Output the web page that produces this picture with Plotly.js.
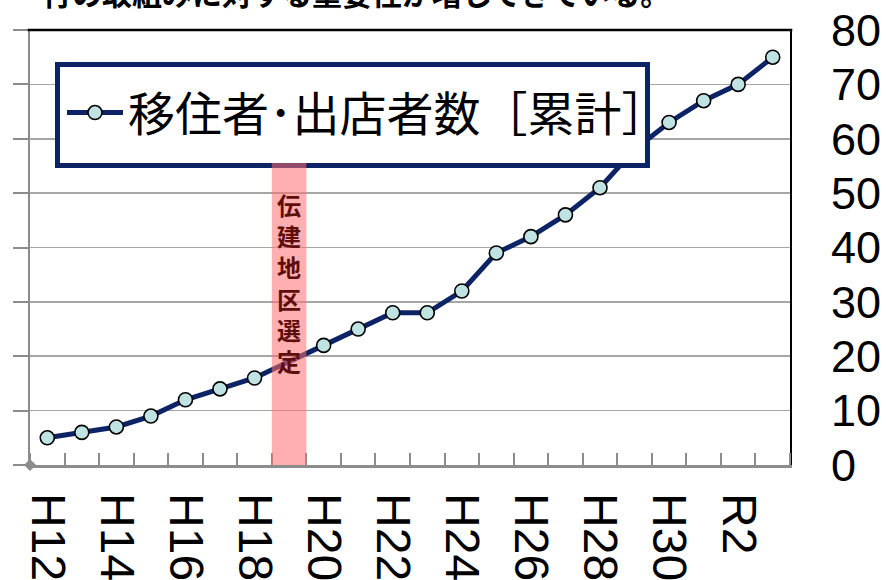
<!DOCTYPE html>
<html>
<head>
<meta charset="utf-8">
<script src="https://cdn.plot.ly/plotly-3.0.1.min.js"></script>
<style>html,body{margin:0;padding:0;background:#fff;}#chart{width:887px;height:580px;}</style>
</head>
<body>
<div id="chart"></div>
<script>
// Data
const categories = ["H12","H13","H14","H15","H16","H17","H18","H19","H20","H21","H22","H23","H24","H25","H26","H27","H28","H29","H30","R1","R2","R3"];
const cumulativeCount = [5,6,7,9,12,14,16,null,22,25,28,28,32,39,42,46,51,58,63,67,70,75];
const tickLabels = ["H12","H14","H16","H18","H20","H22","H24","H26","H28","H30","R2"];
const seriesName = "移住者･出店者数［累計］";
const bandLabel = "伝建地区選定";
const bandCategory = "H19";
const headText = "行の取組みに対する重要性が増してきている。";

const xIdx = categories.map((c, i) => i);
const tickIdx = tickLabels.map(l => categories.indexOf(l));
const bandIdx = categories.indexOf(bandCategory);

const GRAY = "#8c8c8c";
const NAVY = "#0c2466";

const traces = [{
  type: "scatter",
  mode: "lines+markers",
  x: xIdx,
  y: cumulativeCount,
  name: seriesName,
  connectgaps: true,
  line: {color: NAVY, width: 5},
  marker: {symbol: "circle", size: 14, color: "#bfe2e3", line: {color: "#000", width: 1.6}},
  xaxis: "x", yaxis: "y"
}, {
  type: "scatter",
  mode: "lines",
  x: xIdx,
  y: cumulativeCount,
  showlegend: false,
  hoverinfo: "skip",
  opacity: 0,
  xaxis: "x", yaxis: "y2"
}];

const px = v => (v - 30) / 760;
const py = v => (465 - v) / 435;

const layout = {
  width: 887, height: 580,
  margin: {l: 30, r: 97, t: 30, b: 115, pad: 0},
  paper_bgcolor: "#fff", plot_bgcolor: "#fff",
  showlegend: true,
  font: {family: "Liberation Sans, Arial, sans-serif", color: "#000"},
  xaxis: {
    range: [-0.5, categories.length - 0.5],
    automargin: false,
    showgrid: false, zeroline: false,
    showline: true, linecolor: GRAY, linewidth: 2.5,
    tickmode: "array", tickvals: tickIdx, ticktext: tickLabels,
    ticks: "", tickangle: 90,
    ticklabelstandoff: 16,
    tickfont: {size: 48, family: "Liberation Sans, Arial, sans-serif", color: "#000"},
    minor: {ticks: "inside", tick0: -0.5, dtick: 1, ticklen: 12, tickwidth: 2, tickcolor: GRAY, showgrid: false}
  },
  yaxis: {
    range: [0, 80], dtick: 10, tick0: 0,
    automargin: false,
    showgrid: true, gridcolor: "#a6a6a6", gridwidth: 1.6,
    zeroline: false,
    showline: true, linecolor: GRAY, linewidth: 2.5,
    ticks: "outside", ticklen: 15, tickwidth: 2, tickcolor: GRAY,
    showticklabels: false
  },
  yaxis2: {
    overlaying: "y", side: "right",
    range: [0, 80], dtick: 10, tick0: 0,
    automargin: false,
    showgrid: false, zeroline: false,
    showline: true, linecolor: "#000", linewidth: 2,
    ticks: "",
    ticklabelstandoff: 30,
    tickfont: {size: 45, family: "Liberation Sans, Arial, sans-serif", color: "#000"}
  },
  legend: {
    x: px(62), xanchor: "left",
    y: py(113), yanchor: "middle",
    bgcolor: "rgba(0,0,0,0)", borderwidth: 0,
    itemwidth: 56,
    font: {size: 47, family: "Noto Sans CJK JP, sans-serif", color: "#000"}
  },
  shapes: [
    {type: "line", xref: "paper", yref: "paper", x0: -0.003, x1: 1.003, y0: 1, y1: 1, line: {color: "#000", width: 2.5}, layer: "above"},
    {type: "rect", xref: "paper", yref: "paper", x0: px(57.5), x1: px(647.5), y0: py(165.5), y1: py(64.5),
     fillcolor: "#fff", line: {color: NAVY, width: 5}, layer: "above"},
    {type: "rect", xref: "x", yref: "paper", x0: bandIdx - 0.5, x1: bandIdx + 0.5, y0: 0, y1: py(163),
     fillcolor: "rgba(255,110,110,0.55)", line: {width: 0}, layer: "above"},
    {type: "path", xref: "paper", yref: "paper",
     path: "M " + (-6/760) + ",0 L 0," + (6/435) + " L " + (6/760) + ",0 L 0," + (-6/435) + " Z",
     fillcolor: GRAY, line: {width: 0}, layer: "above"}
  ],
  annotations: [
    {xref: "x", yref: "paper", x: bandIdx, y: py(282), xanchor: "center", yanchor: "middle",
     showarrow: false, text: bandLabel.split("").map(c => "<b>" + c + "</b>").join("<br>"),
     font: {size: 24, family: "Noto Sans CJK JP, sans-serif", color: "#5e0c0c"}},
    {xref: "paper", yref: "paper", x: px(40), y: py(-8), xanchor: "left", yanchor: "middle",
     showarrow: false, text: "<b>" + headText + "</b>",
     font: {size: 30, family: "Noto Sans CJK JP, sans-serif", color: "#000"}}
  ]
};

Plotly.newPlot("chart", traces, layout, {staticPlot: true, displayModeBar: false});
</script>
</body>
</html>
